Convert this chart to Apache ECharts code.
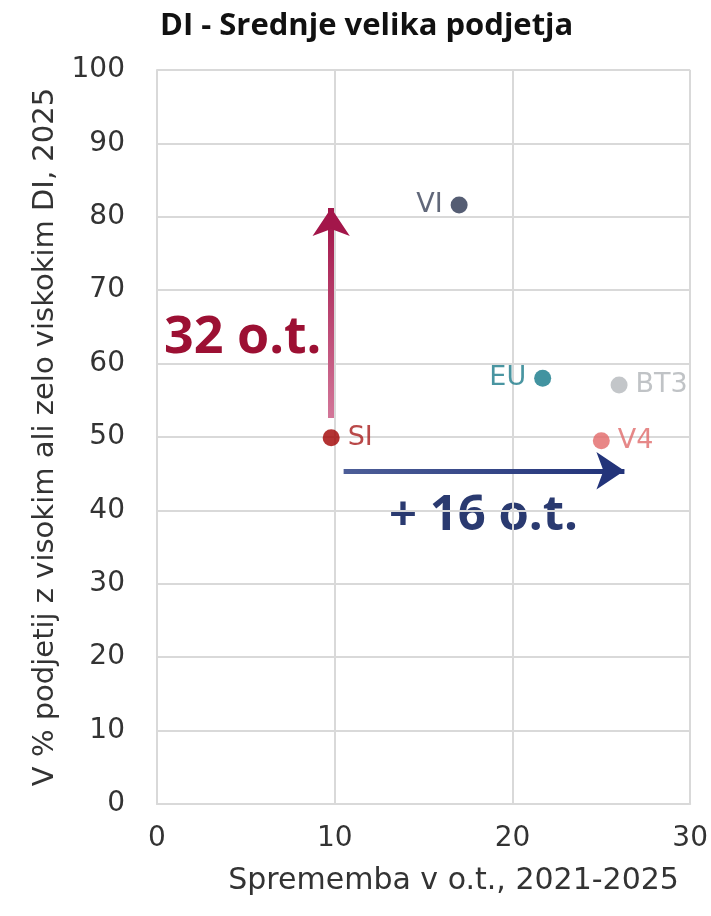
<!DOCTYPE html>
<html>
<head>
<meta charset="utf-8">
<script src="https://cdn.jsdelivr.net/npm/echarts@6/dist/echarts.min.js"></script>
<style>
  html, body { margin: 0; padding: 0; background: #fff; }
  #chart { width: 711px; height: 916px; }
</style>
</head>
<body>
<div id="chart"></div>
<script>
// data
var names = ['VI', 'EU', 'BT3', 'V4', 'SI'];
var changes = [17.0, 21.7, 26.0, 25.0, 9.8];     // x: change in p.p. 2021-2025
var shares = [81.6, 58.0, 57.1, 49.5, 49.9];     // y: % of firms, 2025
var colors = ['#2b3550', '#137888', '#b4b8bc', '#e26868', '#a00000'];
var labelColors = ['#3a4259', '#1c7a8a', '#b0b4b8', '#e06a6a', '#a81c1c'];
var labelPos = ['left', 'left', 'right', 'right', 'right'];
var xTicks = [0, 10, 20, 30];
var arrowUp = [[9.8, 52.6], [9.8, 81.2]];
var arrowRight = [[10.5, 45.4], [26.3, 45.4]];

var dom = document.getElementById('chart');
var myChart = echarts.init(dom);
var font = '"DejaVu Sans", sans-serif';
var gridColor = '#d9d9d9';

var points = names.map(function (n, i) {
    return {
        name: n,
        value: [changes[i], shares[i]],
        itemStyle: { color: colors[i] },
        label: { position: labelPos[i], color: labelColors[i] }
    };
});

// arrow heads drawn as a short solid segment at the end of each arrow
function headOf(seg, back) {
    var a = seg[0], b = seg[1];
    var len = Math.sqrt(Math.pow(b[0] - a[0], 2) + Math.pow(b[1] - a[1], 2));
    return [[b[0] - (b[0] - a[0]) / len * back, b[1] - (b[1] - a[1]) / len * back], b];
}

var option = {
    backgroundColor: '#fff',
    animation: false,
    title: {
        text: 'DI - Srednje velika podjetja',
        left: 155,
        top: 6,
        textStyle: { fontFamily: '"Open Sans", sans-serif', fontWeight: 'bold', fontSize: 31, color: '#111' }
    },
    grid: { left: 157, right: 19, top: 70, bottom: 112 },
    xAxis: {
        type: 'value',
        min: xTicks[0],
        max: xTicks[xTicks.length - 1],
        interval: 10,
        name: 'Sprememba v o.t., 2021-2025',
        nameLocation: 'middle',
        nameGap: 62,
        nameTextStyle: { fontFamily: font, fontSize: 30, color: '#333', padding: [0, 0, 0, 60] },
        axisLine: { show: true, lineStyle: { color: gridColor, width: 2 } },
        axisTick: { show: false },
        axisLabel: { fontFamily: font, fontSize: 28, color: '#333', margin: 21 },
        splitLine: { show: true, lineStyle: { color: gridColor, width: 2 } }
    },
    yAxis: {
        type: 'value',
        min: 0,
        max: 100,
        interval: 10,
        name: 'V % podjetij z visokim ali zelo viskokim DI, 2025',
        nameLocation: 'middle',
        nameGap: 97,
        nameTextStyle: { fontFamily: font, fontSize: 29, color: '#333' },
        axisLine: { show: true, lineStyle: { color: gridColor, width: 2 } },
        axisTick: { show: false },
        axisLabel: { fontFamily: font, fontSize: 28, color: '#333', margin: 32 },
        splitLine: { show: true, lineStyle: { color: gridColor, width: 2 } }
    },
    graphic: [
        {
            type: 'text', left: 164, top: 312,
            style: { text: '32 o.t.', fontFamily: '"Open Sans", sans-serif', fontWeight: 'bold', fontSize: 52, fill: '#9c1033' }
        },
        {
            type: 'text', left: 389, top: 492,
            style: { text: '+ 16 o.t.', fontFamily: '"Open Sans", sans-serif', fontWeight: 'bold', fontSize: 49, fill: '#2a3a70' }
        }
    ],
    series: [
        {
            type: 'lines',
            coordinateSystem: 'cartesian2d',
            symbol: 'none',
            z: 3,
            data: [
                {
                    coords: [arrowUp[0], headOf(arrowUp, 2)[0]],
                    lineStyle: {
                        width: 6,
                        opacity: 1,
                        color: new echarts.graphic.LinearGradient(0, 1, 0, 0, [
                            { offset: 0, color: '#d3789a' },
                            { offset: 1, color: '#a3164a' }
                        ])
                    }
                },
                {
                    coords: [arrowRight[0], headOf(arrowRight, 1)[0]],
                    lineStyle: {
                        width: 5,
                        opacity: 1,
                        color: new echarts.graphic.LinearGradient(0, 0, 1, 0, [
                            { offset: 0, color: '#4d5e98' },
                            { offset: 1, color: '#23347a' }
                        ])
                    }
                }
            ]
        },
        {
            type: 'lines',
            coordinateSystem: 'cartesian2d',
            symbol: ['none', 'arrow'],
            symbolSize: [26, 28],
            z: 3,
            data: [
                { coords: headOf(arrowUp, 2.5), lineStyle: { width: 6, opacity: 1, color: '#a3164a' } },
                { coords: headOf(arrowRight, 1.2), lineStyle: { width: 5, opacity: 1, color: '#23347a' } }
            ]
        },
        {
            type: 'scatter',
            symbolSize: 17,
            z: 4,
            data: points,
            label: {
                show: true,
                formatter: '{b}',
                fontFamily: font,
                fontSize: 27,
                distance: 8
            }
        }
    ]
};

if (option && typeof option === 'object') {
    myChart.setOption(option, true);
}
</script>
</body>
</html>
